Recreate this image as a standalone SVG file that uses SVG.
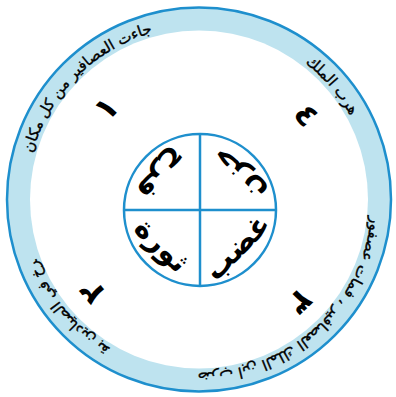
<svg xmlns="http://www.w3.org/2000/svg" width="396" height="397" viewBox="0 0 396 397">
<style>
.arc{font-family:"DejaVu Sans",sans-serif;font-size:15px;fill:#000;stroke:#000;stroke-width:0.35}
.num{font-family:"DejaVu Sans",sans-serif;font-size:32px;font-weight:bold;fill:#000}
.quad{font-family:"DejaVu Sans",sans-serif;font-size:29px;font-weight:bold;fill:#000}
.line{stroke:#1e8fcd;stroke-width:2.5;fill:none}
</style>
<defs>
<path id="p1" d="M26.7,184.4 A173,173 0 0 1 183.9,27.2"/>
<path id="p4" d="M285.5,49.7 A173,173 0 0 1 360.5,137.5"/>
<path id="p3" d="M371.5,190.4 A173,173 0 0 1 171.9,370.4"/>
<path id="p2" d="M112.5,349.3 A173,173 0 0 1 36.4,258.7"/>
</defs>
<g id="ring">
<circle cx="199" cy="199.5" r="192" fill="#bee3ef" stroke="#1e8fcd" stroke-width="2.5"/>
<circle cx="199" cy="199.5" r="169" fill="#fff"/>
</g>
<g id="label1"><text class="arc" text-anchor="middle" direction="rtl"><textPath href="#p1" startOffset="50%">جاءت العصافير من كل مكان</textPath></text></g>
<g id="label4"><text class="arc" text-anchor="middle" direction="rtl"><textPath href="#p4" startOffset="50%">هرب الملك</textPath></text></g>
<g id="label3"><text class="arc" text-anchor="middle" direction="rtl"><textPath href="#p3" startOffset="50%">ضرب ابن الملك العصافير ، فمات عصفور</textPath></text></g>
<g id="label2"><text class="arc" text-anchor="middle" direction="rtl"><textPath href="#p2" startOffset="50%">صرخ في الصيادين بقوة</textPath></text></g>
<g id="n1"><text class="num" text-anchor="middle" dominant-baseline="central" transform="translate(106,108) rotate(-46)">١</text></g>
<g id="n2"><text class="num" text-anchor="middle" dominant-baseline="central" transform="translate(92,292) rotate(-130)">٢</text></g>
<g id="n3"><text class="num" text-anchor="middle" dominant-baseline="central" transform="translate(300,302) rotate(136)">٣</text></g>
<g id="n4"><text class="num" text-anchor="middle" dominant-baseline="central" transform="translate(307,115) rotate(52)">٤</text></g>
<g id="center">
<circle cx="200" cy="210" r="76" fill="#bee3ef" class="line"/>
<line x1="200" y1="134" x2="200" y2="286" class="line"/>
<line x1="124" y1="210" x2="276" y2="210" class="line"/>
</g>
<g id="q1"><text class="quad" text-anchor="middle" dominant-baseline="central" transform="translate(162,175) rotate(135)">فرح</text></g>
<g id="q2"><text class="quad" text-anchor="middle" dominant-baseline="central" transform="translate(238,175) rotate(-135)">حزن</text></g>
<g id="q3"><text class="quad" text-anchor="middle" dominant-baseline="central" transform="translate(162,245) rotate(45)">ثورة</text></g>
<g id="q4"><text class="quad" text-anchor="middle" dominant-baseline="central" transform="translate(237,247) rotate(-45)">غضب</text></g>
</svg>
